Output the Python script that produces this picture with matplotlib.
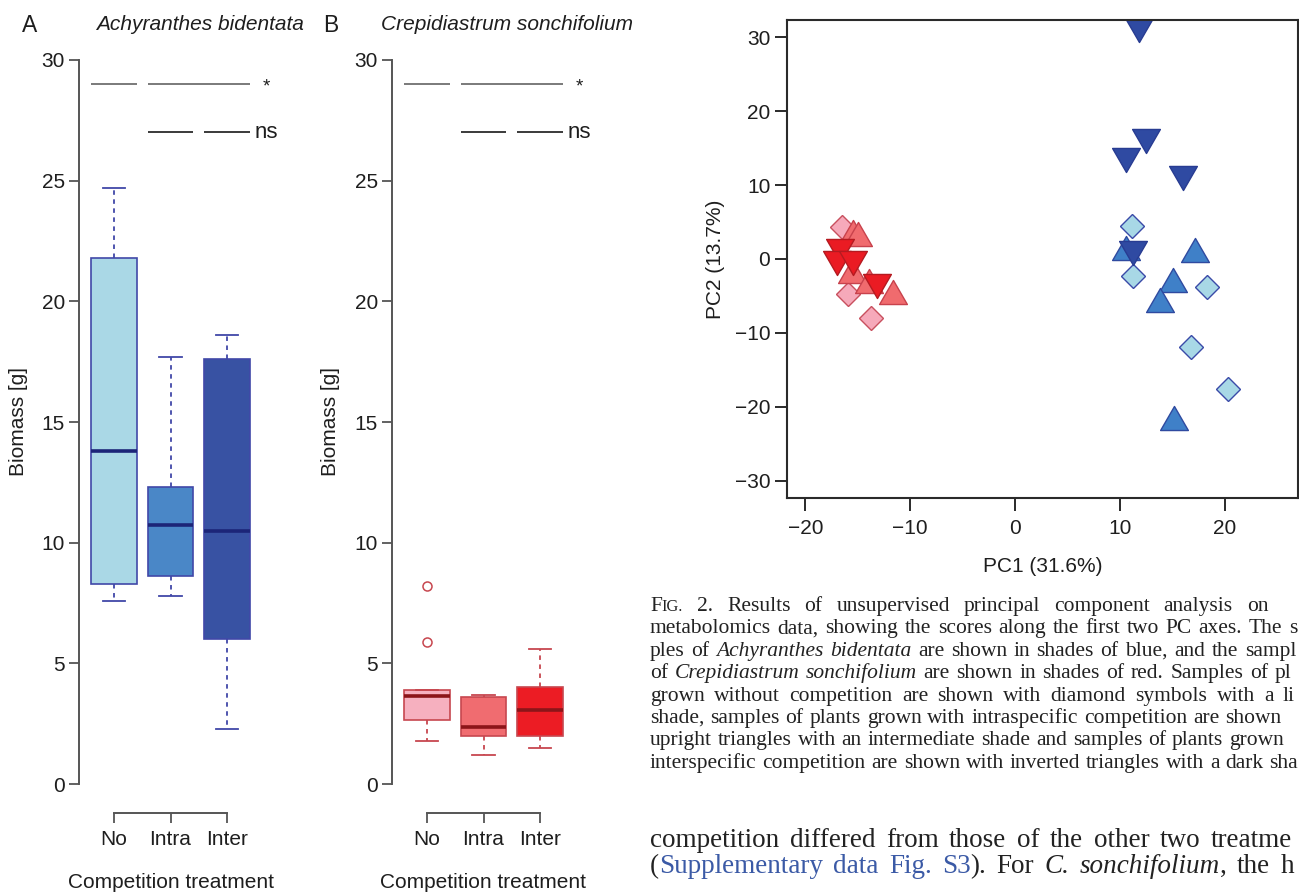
import matplotlib
matplotlib.use('Agg')
import matplotlib.pyplot as plt
from matplotlib.path import Path
from matplotlib.font_manager import FontProperties

# Biomass box summaries [g]
treatments = ['No', 'Intra', 'Inter']

ab_low = [7.6, 7.8, 2.3]
ab_q1 = [8.3, 8.6, 6.0]
ab_med = [13.8, 10.75, 10.5]
ab_q3 = [21.8, 12.3, 17.6]
ab_high = [24.7, 17.7, 18.6]
ab_out = [[], [], []]

cs_low = [1.8, 1.2, 1.5]
cs_q1 = [2.65, 2.0, 2.0]
cs_med = [3.65, 2.35, 3.05]
cs_q3 = [3.9, 3.6, 4.0]
cs_high = [3.9, 3.7, 5.6]
cs_out = [[5.9, 8.2], [], []]

# comparison bars: (first box, last box) per segment
sig_levels = [29, 27]
sig_labels = ['*', 'ns']
sig_groups = [[(1, 1), (2, 3)], [(2, 2), (3, 3)]]

# PCA scores
ab_no_x = [11.2, 11.3, 18.3, 16.8, 20.3]
ab_no_y = [4.5, -2.3, -3.8, -11.9, -17.6]
ab_intra_x = [10.6, 17.2, 15.1, 13.8, 15.2]
ab_intra_y = [1.5, 1.2, -2.8, -5.5, -21.5]
ab_inter_x = [11.8, 12.5, 10.6, 16.0, 11.3]
ab_inter_y = [31.0, 16.0, 13.4, 11.0, 0.8]

cs_no_x = [-16.5, -15.9, -13.7]
cs_no_y = [4.3, -4.7, -8.0]
cs_intra_x = [-15.5, -15.0, -15.6, -13.9, -11.6]
cs_intra_y = [3.6, 3.4, -1.6, -3.0, -4.5]
cs_inter_x = [-16.7, -17.0, -15.5, -13.2]
cs_inter_y = [1.1, -0.5, -0.5, -3.7]

plt.rcParams['font.family'] = 'Liberation Sans'
W, H = 1299, 893
fig = plt.figure(figsize=(W / 100, H / 100), dpi=100)
axis_grey = '#555555'
ink = '#1e1e1e'
fs = 15


def add_ax(left, top, right, bottom):
    return fig.add_axes([left / W, 1 - bottom / H, (right - left) / W, (bottom - top) / H])


def box_panel(ax, low, q1, med, q3, high, out, fills, edge, medcol):
    stats = [dict(whislo=a, q1=b, med=c, q3=d, whishi=e, fliers=f)
             for a, b, c, d, e, f in zip(low, q1, med, q3, high, out)]
    bp = ax.bxp(stats, positions=[1, 2, 3], widths=0.8, capwidths=0.4,
                patch_artist=True, showfliers=True,
                boxprops=dict(edgecolor=edge, linewidth=1.2),
                whiskerprops=dict(color=edge, linewidth=1.3, linestyle=(0, (2.5, 2.5))),
                capprops=dict(color=edge, linewidth=1.3),
                medianprops=dict(color=medcol, linewidth=2.6, solid_capstyle='butt'),
                flierprops=dict(marker='o', markerfacecolor='none', markeredgecolor=edge,
                                markersize=6.5, markeredgewidth=1.1))
    for patch, c in zip(bp['boxes'], fills):
        patch.set_facecolor(c)

    ax.set_xlim(0.38, 3.62)
    ax.set_ylim(-1.2, 31.2)
    for s in ['top', 'right']:
        ax.spines[s].set_visible(False)
    for s in ['left', 'bottom']:
        ax.spines[s].set_color(axis_grey)
        ax.spines[s].set_linewidth(1.4)
    ax.spines['left'].set_bounds(0, 30)
    ax.spines['bottom'].set_bounds(1, 3)
    ax.set_yticks(range(0, 31, 5))
    ax.set_xticks([1, 2, 3])
    ax.set_xticklabels(treatments)
    ax.tick_params(direction='out', length=7.5, width=1.3, colors=axis_grey,
                   labelcolor=ink, labelsize=fs)
    ax.tick_params(axis='y', pad=2.5)
    ax.tick_params(axis='x', pad=5)
    ax.patch.set_alpha(0)

    line_cols = ['#7a7a7a', '#3a3a3a']
    for lev, lab, segs, lc in zip(sig_levels, sig_labels, sig_groups, line_cols):
        for a, b in segs:
            ax.plot([a - 0.4, b + 0.4], [lev, lev], color=lc, lw=1.4,
                    solid_capstyle='butt', clip_on=False)
    ax.text(3.63, sig_levels[0] - 0.1, sig_labels[0], fontsize=13.5, color=ink,
            ha='left', va='center')
    ax.text(3.48, sig_levels[1], sig_labels[1], fontsize=16, color=ink,
            ha='left', va='center')
    ax.set_ylabel('Biomass [g]', fontsize=fs, color=ink)
    ax.set_xlabel('Competition treatment', fontsize=fs, color=ink)


# Panel A
axA = add_ax(79, 31, 262, 813)
box_panel(axA, ab_low, ab_q1, ab_med, ab_q3, ab_high, ab_out,
          ['#aad8e6', '#4a87c7', '#3852a3'], '#4148a8', '#1c2578')
axA.yaxis.set_label_coords(-0.279, 0.5)
axA.xaxis.set_label_coords(0.5, -0.077)
fig.text(22 / W, 1 - 25 / H, 'A', fontsize=16.5, color=ink, ha='left', va='center')
fig.text(200 / W, 1 - 25 / H, 'Achyranthes bidentata', fontsize=15, style='italic',
         color=ink, ha='center', va='center')

# Panel B
axB = add_ax(392, 31, 575, 813)
box_panel(axB, cs_low, cs_q1, cs_med, cs_q3, cs_high, cs_out,
          ['#f6b0bf', '#f06c70', '#ec1c24'], '#c7474f', '#8c1519')
axB.yaxis.set_label_coords(-0.284, 0.5)
axB.xaxis.set_label_coords(0.5, -0.077)
fig.text(323 / W, 1 - 25 / H, 'B', fontsize=16.5, color=ink, ha='left', va='center')
fig.text(507 / W, 1 - 25 / H, 'Crepidiastrum sonchifolium', fontsize=15, style='italic',
         color=ink, ha='center', va='center')

# PCA panel
axC = add_ax(787, 20, 1298, 498)
tri_up = Path([(-1, -0.866), (1, -0.866), (0, 0.866), (0, 0)],
              [Path.MOVETO, Path.LINETO, Path.LINETO, Path.CLOSEPOLY])
tri_down = Path([(-1, 0.866), (1, 0.866), (0, -0.866), (0, 0)],
                [Path.MOVETO, Path.LINETO, Path.LINETO, Path.CLOSEPOLY])

series = [
    (cs_no_x, cs_no_y, 'D', 12, '#f6a9ba', '#c8505e'),
    (cs_intra_x, cs_intra_y, tri_up, 20, '#f06b6e', '#c8424c'),
    (cs_inter_x, cs_inter_y, tri_down, 20, '#ea1b23', '#b51a20'),
    (ab_no_x, ab_no_y, 'D', 12.5, '#a8d8e6', '#3a4aa8'),
    (ab_intra_x, ab_intra_y, tri_up, 20, '#3f80c8', '#2f4aa0'),
    (ab_inter_x, ab_inter_y, tri_down, 20, '#2f4aa2', '#283c92'),
]
for xs, ys, mk, ms, fc, ec in series:
    axC.plot(xs, ys, linestyle='none', marker=mk, markersize=ms,
             markerfacecolor=fc, markeredgecolor=ec, markeredgewidth=1.0)

axC.set_xlim(-21.76, 27.0)
axC.set_ylim(-32.3, 32.3)
for s in axC.spines.values():
    s.set_color('#2a2a2a')
    s.set_linewidth(1.5)
axC.set_xticks([-20, -10, 0, 10, 20])
axC.set_yticks([-30, -20, -10, 0, 10, 20, 30])
axC.tick_params(direction='out', length=9, width=1.4, colors='#2a2a2a',
                labelcolor=ink, labelsize=fs)
axC.tick_params(axis='y', pad=3)
axC.tick_params(axis='x', pad=6)
axC.set_xlabel('PC1 (31.6%)', fontsize=fs, color=ink)
axC.set_ylabel('PC2 (13.7%)', fontsize=fs, color=ink)
axC.yaxis.set_label_coords(-0.121, 0.5)
axC.xaxis.set_label_coords(0.5, -0.123)

# Caption and running text (cut at the right edge like the page crop)
renderer = fig.canvas.get_renderer()


def width_of(s, fp):
    return renderer.get_text_width_height_descent(s, fp, ismath=False)[0]


def text_run(x, y, runs, size, gap=0.0, family='Liberation Serif'):
    for txt, style, scale, color in runs:
        fp = FontProperties(family=family, style=style, size=size * scale)
        sp = width_of('n n', fp) - width_of('nn', fp)
        for i, tok in enumerate(txt.split(' ')):
            if i > 0:
                x += sp + gap
            while tok and x + width_of(tok, fp) > W - 1:
                tok = tok[:-1]
            if tok:
                fig.text(x / W, 1 - y / H, tok, fontproperties=fp, color=color,
                         ha='left', va='baseline')
                x += width_of(tok, fp)
            if x >= W - 12:
                return x
    return x


cap = '#222222'
caption = [
    ([('F', 'normal', 1, cap), ('IG.', 'normal', 0.76, cap),
      (' 2. Results of unsupervised principal component analysis on', 'normal', 1, cap)], 8.5),
    ([('metabolomics data, showing the scores along the first two PC axes. The sam-',
       'normal', 1, cap)], 1.2),
    ([('ples of ', 'normal', 1, cap), ('Achyranthes bidentata', 'italic', 1, cap),
      (' are shown in shades of blue, and the samples', 'normal', 1, cap)], 1.2),
    ([('of ', 'normal', 1, cap), ('Crepidiastrum sonchifolium', 'italic', 1, cap),
      (' are shown in shades of red. Samples of plants', 'normal', 1, cap)], 1.2),
    ([('grown without competition are shown with diamond symbols with a light',
       'normal', 1, cap)], 4),
    ([('shade, samples of plants grown with intraspecific competition are shown with',
       'normal', 1, cap)], 0.5),
    ([('upright triangles with an intermediate shade and samples of plants grown with',
       'normal', 1, cap)], 0.5),
    ([('interspecific competition are shown with inverted triangles with a dark shade.',
       'normal', 1, cap)], 0.5),
]
for i, (runs, gap) in enumerate(caption):
    text_run(650, 611 + 22.4 * i, runs, 15.5, gap)

link = '#3b5aa6'
body = [
    ([('competition differed from those of the other two treatments', 'normal', 1, cap)], 3.8),
    ([('(', 'normal', 1, cap), ('Supplementary data Fig. S3', 'normal', 1, link),
      ('). For ', 'normal', 1, cap), ('C. sonchifolium', 'italic', 1, cap),
      (', the highest', 'normal', 1, cap)], 3.5),
]
for i, (runs, gap) in enumerate(body):
    text_run(650, 847 + 26 * i, runs, 19.5, gap)

fig.savefig('out.png', dpi=100)
